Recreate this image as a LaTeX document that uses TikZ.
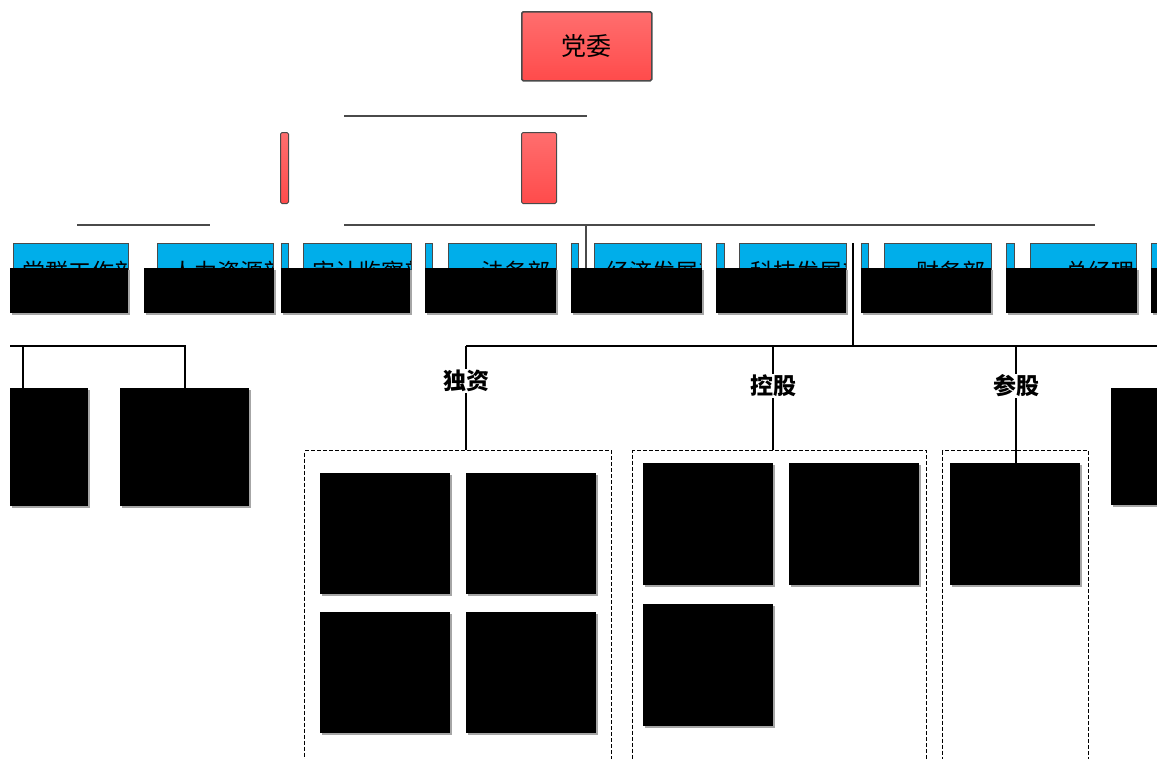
\documentclass[tikz,border=0pt]{standalone}
\usepackage{fontspec}
\setmainfont{Noto Sans CJK SC}
\usetikzlibrary{positioning,shadows}

\definecolor{deptblue}{HTML}{00AEEA}
\definecolor{redtop}{HTML}{FF6E6E}
\definecolor{redbot}{HTML}{FF4B4B}
\definecolor{frame}{HTML}{4A4A4A}

\tikzset{
  party/.style={draw=frame, line width=1.5pt, top color=redtop, bottom color=redbot, rounded corners=1.5pt, inner sep=0pt, anchor=north west},
  dept/.style 2 args={draw=frame, fill=deptblue, line width=1pt, inner sep=0pt, anchor=north west, minimum height=56pt,
    path picture={\node[anchor=west, draw=none, fill=none, minimum width=0pt, minimum height=0pt, inner sep=0pt, font=\fontsize{23}{25}\selectfont] at ([xshift=#1]path picture bounding box.west) {#2};}},
  blackbox/.style={fill=black, inner sep=0pt, anchor=north west, drop shadow={shadow xshift=2pt, shadow yshift=-2pt, fill=gray!70, opacity=1}},
  group/.style={draw, dash pattern=on 4pt off 2pt, line width=1pt, inner sep=0pt, anchor=north west},
  kind/.style={font=\fontsize{23}{25}\selectfont\bfseries, inner sep=1pt},
  bar/.style={draw=frame, line width=1.2pt},
  link/.style={draw=black, line width=1.8pt}
}

\begin{document}
\begin{tikzpicture}[x=1pt,y=-1pt]
\clip (0,0) rectangle (1157,758);
\fill[white] (0,0) rectangle (1157,758);

%the red boxes at the top
\node[party, minimum width=130pt, minimum height=69pt, font=\fontsize{25}{28}\selectfont] (dw) at (521,11) {党委};
\node[party, line width=1pt, minimum width=8pt, minimum height=71pt] (zj) at (280,132) {};
\node[party, line width=1pt, minimum width=35pt, minimum height=71pt] (dsh) at (521,132) {};

%grey lines between them
\coordinate (a1) at (344,116);
\coordinate (a2) at (587,116);
\coordinate (b1) at (77,225);
\coordinate (b2) at (210,225);
\coordinate (c1) at (344,225);
\coordinate (c2) at (1095,225);
\coordinate (c3) at (586,225);
\coordinate (c4) at (586,268);
\draw[bar] (a1) -- (a2);
\draw[bar] (b1) -- (b2);
\draw[bar] (c1) -- (c2);
\draw[bar] (c3) -- (c4);

%the departments
\node[dept={9pt}{党群工作部}, minimum width=115pt] (dq) at (13,243) {};
\node[dept={13pt}{人力资源部}, minimum width=116pt] (rl) at (157,243) {};
\node[dept={0pt}{}, minimum width=7pt] (s1) at (281,243) {};
\node[dept={8pt}{审计监察部}, minimum width=108pt] (sj) at (303,243) {};
\node[dept={0pt}{}, minimum width=7pt] (s2) at (425,243) {};
\node[dept={32pt}{法务部}, minimum width=108pt] (fw) at (448,243) {};
\node[dept={0pt}{}, minimum width=7pt] (s3) at (571,243) {};
\node[dept={11pt}{经济发展部}, minimum width=107pt] (jj) at (594,243) {};
\node[dept={0pt}{}, minimum width=8pt] (s4) at (716,243) {};
\node[dept={10pt}{科技发展部}, minimum width=107pt] (kj) at (739,243) {};
\node[dept={0pt}{}, minimum width=7pt] (s5) at (861,243) {};
\node[dept={31pt}{财务部}, minimum width=107pt] (cw) at (884,243) {};
\node[dept={0pt}{}, minimum width=8pt] (s6) at (1006,243) {};
\node[dept={34pt}{总经理}, minimum width=106pt] (zjl) at (1030,243) {};
\node[dept={0pt}{}, minimum width=8pt] (s7) at (1151,243) {};

%black bars over the departments
\node[blackbox, minimum width=118pt, minimum height=45pt] (k1) at (10,268) {};
\node[blackbox, minimum width=130pt, minimum height=45pt] (k2) at (144,268) {};
\node[blackbox, minimum width=129pt, minimum height=45pt] (k3) at (281,268) {};
\node[blackbox, minimum width=131pt, minimum height=45pt] (k4) at (425,268) {};
\node[blackbox, minimum width=131pt, minimum height=45pt] (k5) at (571,268) {};
\node[blackbox, minimum width=130pt, minimum height=45pt] (k6) at (716,268) {};
\node[blackbox, minimum width=130pt, minimum height=45pt] (k7) at (861,268) {};
\node[blackbox, minimum width=131pt, minimum height=45pt] (k8) at (1006,268) {};
\node[blackbox, minimum width=10pt, minimum height=45pt] (k9) at (1151,268) {};

%left branch
\node[blackbox, minimum width=78pt, minimum height=118pt] (l1) at (10,388) {};
\node[blackbox, minimum width=129pt, minimum height=118pt] (l2) at (120,388) {};
\coordinate (lb) at (10,346);
\draw[link] (lb) -| (l2.north);
\draw[link] ([xshift=13pt]lb) -- ([xshift=13pt]l1.north west);

%the three groups
\node[group, minimum width=307pt, minimum height=320pt] (g1) at (304,450) {};
\node[group, minimum width=294pt, minimum height=320pt] (g2) at (632,450) {};
\node[group, minimum width=146pt, minimum height=320pt] (g3) at (942,450) {};

\node[blackbox, minimum width=130pt, minimum height=121pt] (a11) at (320,473) {};
\node[blackbox, minimum width=130pt, minimum height=121pt] (a12) at (466,473) {};
\node[blackbox, minimum width=130pt, minimum height=121pt] (a21) at (320,612) {};
\node[blackbox, minimum width=130pt, minimum height=121pt] (a22) at (466,612) {};
\node[blackbox, minimum width=130pt, minimum height=122pt] (b11) at (643,463) {};
\node[blackbox, minimum width=130pt, minimum height=122pt] (b12) at (789,463) {};
\node[blackbox, minimum width=130pt, minimum height=122pt] (b21) at (643,604) {};
\node[blackbox, minimum width=130pt, minimum height=122pt] (c11) at (950,463) {};
\node[blackbox, minimum width=50pt, minimum height=117pt] (r1) at (1111,388) {};

%right bus
\coordinate (kt) at (853,243);
\coordinate (bus) at (853,346);
\coordinate (rb1) at (466,346);
\coordinate (rb2) at (1157,346);
\node[kind] (dz) at (466,381) {独资};
\node[kind] (kg) at (773,386) {控股};
\node[kind] (cg) at (1016,386) {参股};
\draw[link] (kt) -- (bus);
\draw[link] (rb1) -- (rb2);
\draw[link] (rb1) -- (dz.north);
\draw[link] (dz.south) -- (dz.south |- g1.north);
\draw[link] (bus -| kg) -- (kg.north);
\draw[link] (kg.south) -- (kg.south |- g2.north);
\draw[link] (bus -| cg) -- (cg.north);
\draw[link] (cg.south) -- (cg.south |- c11.north);
\end{tikzpicture}
\end{document}
